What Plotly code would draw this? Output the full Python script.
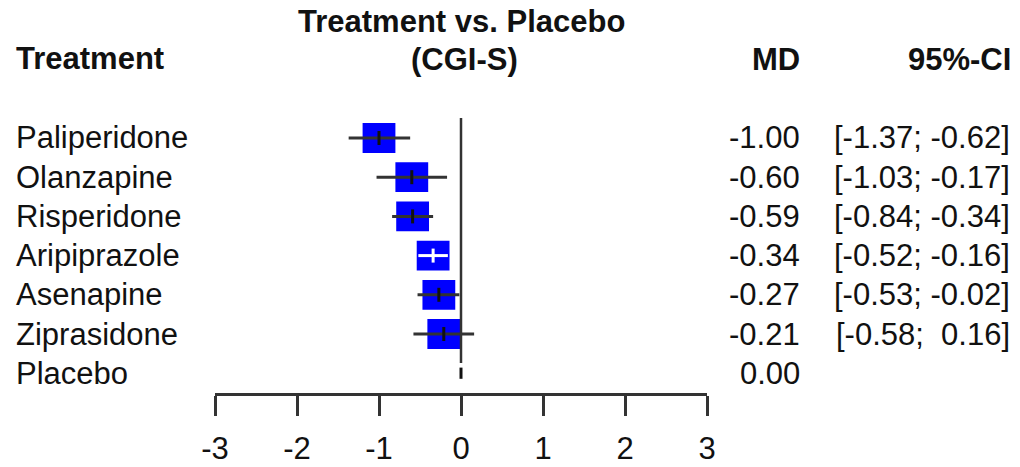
import plotly.graph_objects as go

# Mean difference vs placebo on CGI-S, with 95% confidence intervals
treatments = ["Paliperidone", "Olanzapine", "Risperidone", "Aripiprazole",
              "Asenapine", "Ziprasidone", "Placebo"]
md = [-1.00, -0.60, -0.59, -0.34, -0.27, -0.21, 0.00]
ci_low = [-1.37, -1.03, -0.84, -0.52, -0.53, -0.58, None]
ci_high = [-0.62, -0.17, -0.34, -0.16, -0.02, 0.16, None]
x_ticks = [-3, -2, -1, 0, 1, 2, 3]
x_tick_labels = ["-3", "-2", "-1", "0", "1", "2", "3"]

W, H = 1020, 467
PL, PR, PT, PB = 215, 707, 100, 393          # plot area in pixels
FONT = "Liberation Sans, Arial, Helvetica, sans-serif"
FS = 31
BOX_HW = 0.2      # half-width of the box, in MD units
BOX_HH = 0.38     # half-height of the box, in row units
LINE_COL = "#333333"

rows = list(range(len(treatments)))


def px_x(p):
    return (p - PL) / (PR - PL)


def px_y(p):
    return (PB - p) / (PB - PT)


fig = go.Figure()

# boxes
for i, (m, lo) in enumerate(zip(md, ci_low)):
    if lo is None:
        continue
    fig.add_shape(type="rect", xref="x", yref="y",
                  x0=m - BOX_HW, x1=m + BOX_HW, y0=i - BOX_HH, y1=i + BOX_HH,
                  fillcolor="#0000FF", line=dict(width=0), layer="below")

# reference line at zero
fig.add_shape(type="line", xref="x", yref="y", x0=0, x1=0, y0=-0.51, y1=5.74,
              line=dict(color=LINE_COL, width=2.5))

# confidence interval lines and point markers
for i, (m, lo, hi) in enumerate(zip(md, ci_low, ci_high)):
    inside = lo is not None and lo >= m - BOX_HW and hi <= m + BOX_HW
    col = "white" if inside else LINE_COL
    if lo is not None:
        fig.add_trace(go.Scatter(x=[lo, hi], y=[i, i], mode="lines",
                                 line=dict(color=col, width=3),
                                 hoverinfo="skip", showlegend=False))
    fig.add_trace(go.Scatter(x=[m], y=[i], mode="markers",
                             marker=dict(symbol="line-ns", size=10 if lo is not None else 8,
                                         line=dict(color="white" if inside else "#111111",
                                                   width=3)),
                             hoverinfo="skip", showlegend=False))

annotations = []

# headers
annotations.append(dict(text="<b>Treatment vs. Placebo</b>", x=px_x(461), y=px_y(21)))
annotations.append(dict(text="<b>(CGI-S)</b>", x=px_x(464), y=px_y(60)))
annotations.append(dict(text="<b>Treatment</b>", x=px_x(14), y=px_y(58), xanchor="left"))
annotations.append(dict(text="<b>MD</b>", x=px_x(802), y=px_y(60), xanchor="right"))
annotations.append(dict(text="<b>95%-CI</b>", x=px_x(1013), y=px_y(60), xanchor="right"))

# row labels and values
for i, (name, m, lo, hi) in enumerate(zip(treatments, md, ci_low, ci_high)):
    annotations.append(dict(text=name, x=px_x(14), y=i, yref="y", xanchor="left"))
    annotations.append(dict(text=f"{m:.2f}", x=px_x(802), y=i, yref="y", xanchor="right"))
    if lo is not None:
        ci_txt = f"[{lo:5.2f};{hi:6.2f}]".replace(" ", "\u00a0")
        annotations.append(dict(text=ci_txt, x=px_x(1012), y=i, yref="y", xanchor="right"))

for a in annotations:
    a.setdefault("xref", "paper")
    a.setdefault("yref", "paper")
    a.setdefault("xanchor", "center")
    a["yanchor"] = "middle"
    a["showarrow"] = False
    a["font"] = dict(family=FONT, size=FS, color="#111111")

fig.update_layout(
    width=W, height=H,
    margin=dict(l=PL, r=W - PR, t=PT, b=H - PB, pad=0, autoexpand=False),
    paper_bgcolor="white", plot_bgcolor="white",
    annotations=annotations,
    xaxis=dict(range=[-3, 3], tickvals=x_ticks, ticktext=x_tick_labels,
               showgrid=False, zeroline=False, showline=True,
               linecolor=LINE_COL, linewidth=2.5,
               ticks="outside", ticklen=20, tickwidth=2.5, tickcolor=LINE_COL,
               tickfont=dict(family=FONT, size=FS, color="#111111"),
               ticklabelstandoff=6, automargin=False, fixedrange=True),
    yaxis=dict(range=[6.505, -0.969], visible=False, fixedrange=True),
)

fig.write_html("out.html")
